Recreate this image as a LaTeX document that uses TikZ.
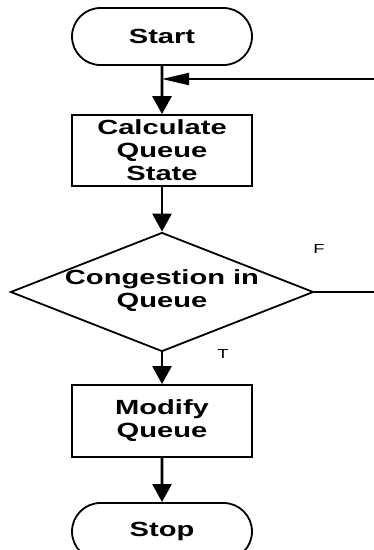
\documentclass[tikz,border=0pt]{standalone}
\usepackage{fontspec}
\setmainfont{Liberation Sans}[FakeStretch=1.42]
\usetikzlibrary{arrows.meta, shapes.geometric, shapes.misc}

\begin{document}
\begin{tikzpicture}[x=1pt,y=-1pt,
        every node/.style={font=\fontsize{20.5}{23}\selectfont\bfseries, align=center},
        terminal/.style={draw, line width=1.8pt, rounded rectangle, minimum width=180pt, minimum height=57pt, inner sep=0pt},
        process/.style={draw, line width=1.8pt, rectangle, minimum width=180pt, minimum height=71pt, inner sep=0pt},
        decision/.style={draw, line width=1.8pt, diamond, minimum width=303pt, minimum height=119pt, inner sep=0pt},
        flow/.style={line width=2.6pt, -{Triangle[length=18pt,width=19pt]}},
        flag/.style={font=\fontsize{13}{14}\selectfont}]
        \useasboundingbox (0,0) rectangle (374,550);

        % boxes
        \node[terminal] (start) at (162,36.5) {Start};
        \node[process] (calc) at (162,150.5) {Calculate\\Queue\\State};
        \node[decision] (cong) at (162,292) {};
        \node (congtext) at (162,291) {Congestion in\\Queue};
        \node[process, minimum height=72pt] (modify) at (162,421) {Modify\\Queue};
        \node[terminal] (stop) at (162,531.5) {Stop};

        % flow
        \draw[flow] (start) -- (calc);
        \draw[flow] (calc) -- (cong);
        \draw[flow] (cong) -- (modify);
        \draw[flow] (modify) -- (stop);

        % loop back
        \coordinate (back) at (374,79);
        \coordinate (exit) at (374,292);
        \draw[line width=2pt, -{Triangle[length=27pt,width=12pt]}] (back) -- (start.south |- back);
        \draw[line width=1.5pt] (cong.east) -- (exit);

        \node[flag] (f) at (319,249) {F};
        \node[flag] (t) at (223,354) {T};
    \end{tikzpicture}
\end{document}
